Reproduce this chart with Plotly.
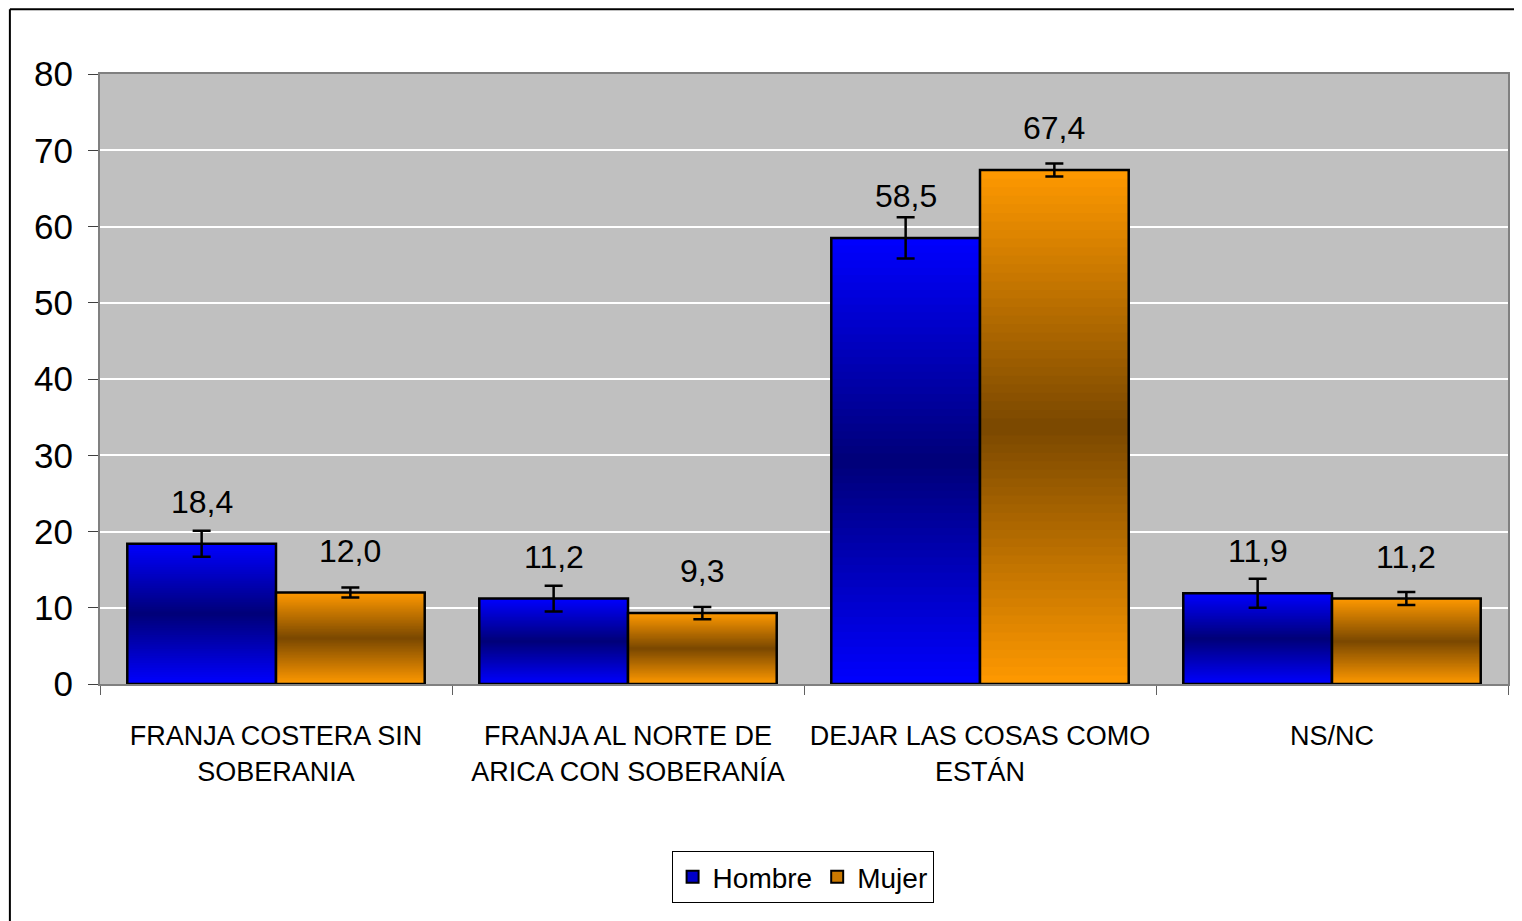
import plotly.graph_objects as go

categories = ['FRANJA COSTERA SIN<br>SOBERANIA', 'FRANJA AL NORTE DE<br>ARICA CON SOBERANÍA',
              'DEJAR LAS COSAS COMO<br>ESTÁN', 'NS/NC']
hombre = [18.4, 11.2, 58.5, 11.9]
mujer = [12.0, 9.3, 67.4, 11.2]
hombre_err = [1.7, 1.7, 2.7, 1.9]
mujer_err = [0.65, 0.8, 0.85, 0.85]
hombre_labels = ['18,4', '11,2', '58,5', '11,9']
mujer_labels = ['12,0', '9,3', '67,4', '11,2']

FONT = 'Liberation Sans, Arial, sans-serif'
N_STEPS = 60


def mix(c1, c2, t):
    return 'rgb(%d,%d,%d)' % tuple(round(a + (b - a) * t) for a, b in zip(c1, c2))


def gradient(edge, mid, t):
    # t: 0 = bottom, 1 = top; darkest in the middle
    d = abs(t - 0.5) * 2
    return mix(mid, edge, d)


series = [
    ('Hombre', hombre, hombre_err, hombre_labels, (0, 0, 255), (0, 0, 120), 'H', -74),
    ('Mujer', mujer, mujer_err, mujer_labels, (255, 153, 0), (122, 72, 0), 'M', 74),
]

fig = go.Figure()

for name, vals, errs, labels, edge, mid, grp, shift in series:
    # gradient fill: overlaid bars from tallest to shortest
    for k in range(N_STEPS, 0, -1):
        t = (k - 0.5) / N_STEPS
        fig.add_trace(go.Bar(x=categories, y=[v * k / N_STEPS for v in vals], offsetgroup=grp,
                             marker=dict(color=gradient(edge, mid, t), line=dict(width=0)),
                             showlegend=False, hoverinfo='skip'))
    # outline + error bars
    fig.add_trace(go.Bar(x=categories, y=vals, offsetgroup=grp, name=name, showlegend=False,
                         marker=dict(color='rgba(0,0,0,0)', line=dict(color='black', width=2.5)),
                         error_y=dict(type='data', array=errs, color='black', thickness=2.5, width=9)))
    # legend entry
    fig.add_trace(go.Bar(x=[None], y=[None], offsetgroup=grp, name=name,
                         marker=dict(color=mix(mid, edge, 0.6), line=dict(color='black', width=2))))
    for c, v, e, lab in zip(categories, vals, errs, labels):
        fig.add_annotation(x=c, y=v, text=lab, showarrow=False, xshift=shift, yshift=22,
                           yanchor='bottom', font=dict(family=FONT, size=32, color='black'))

# outer chart border (left and top)
fig.add_shape(type='line', xref='paper', yref='paper', x0=-0.064, x1=1.02, y0=1.106, y1=1.106,
              line=dict(color='black', width=2))
fig.add_shape(type='line', xref='paper', yref='paper', x0=-0.064, x1=-0.064, y0=1.106, y1=-0.40,
              line=dict(color='black', width=2))

# page body has an 8px margin, so the figure is 8px smaller on each axis
fig.update_layout(
    width=1514, height=913,
    margin=dict(l=92, r=14, t=66, b=237),
    paper_bgcolor='white', plot_bgcolor='#C0C0C0',
    barmode='group', bargap=0.155, bargroupgap=0,
    font=dict(family=FONT, color='black'),
    legend=dict(orientation='h', x=0.499, xanchor='center', y=-0.274, yanchor='top',
                bordercolor='black', borderwidth=1, bgcolor='white',
                font=dict(family=FONT, size=28), itemwidth=30),
)
fig.update_xaxes(showline=True, linecolor='#808080', linewidth=2, mirror=True, automargin=False,
                 ticks='outside', tickson='boundaries', ticklen=9, tickcolor='#606060', tickwidth=1,
                 tickangle=0, ticklabelstandoff=27,
                 tickfont=dict(family=FONT, size=27), showgrid=False)
fig.update_yaxes(range=[0, 80], dtick=10, showline=True, linecolor='#808080', linewidth=2, mirror=True,
                 automargin=False, ticks='outside', ticklen=10, tickcolor='#404040', tickwidth=1,
                 ticklabelstandoff=8, gridcolor='white', gridwidth=1.5, zeroline=False,
                 tickfont=dict(family=FONT, size=35))

fig.write_html('out.html')
